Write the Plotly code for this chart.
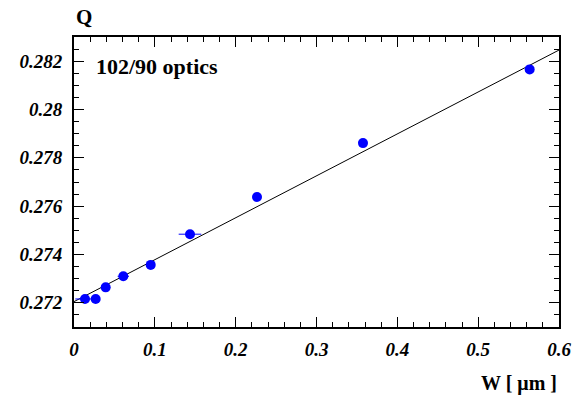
import numpy as np
import plotly.graph_objects as go

# Data
w_vals = [0.0136, 0.0268, 0.0392, 0.061, 0.0949, 0.1435, 0.2264, 0.3575, 0.5637]
q_vals = [0.27216, 0.27216, 0.27264, 0.2731, 0.27357, 0.27484, 0.27638, 0.27861, 0.28166]
w_err = [0.012, 0.005, 0.003, 0.007, 0.003, 0.014, 0.003, 0.003, 0.003]
fit_intercept = 0.27205
fit_slope = 0.01735

x_ticks = [0, 0.1, 0.2, 0.3, 0.4, 0.5, 0.6]
x_ticklabels = ["0", "0.1", "0.2", "0.3", "0.4", "0.5", "0.6"]
y_ticks = [0.272, 0.274, 0.276, 0.278, 0.28, 0.282]
y_ticklabels = ["0.272", "0.274", "0.276", "0.278", "0.28", "0.282"]

fit_x = np.linspace(0, 0.6, 50)
fit_y = fit_intercept + fit_slope * fit_x

fig = go.Figure()
fig.add_trace(go.Scatter(x=fit_x, y=fit_y, mode="lines",
                         line=dict(color="black", width=1), showlegend=False,
                         hoverinfo="skip"))
fig.add_trace(go.Scatter(x=w_vals, y=q_vals, mode="markers",
                         marker=dict(color="#0000ff", size=10),
                         error_x=dict(type="data", array=w_err, color="#0000ff",
                                      thickness=1, width=0),
                         showlegend=False))

tickfont = dict(family="Liberation Serif", size=19, color="black",
                weight="bold", style="italic")

fig.update_xaxes(range=[0, 0.6], tickvals=x_ticks, ticktext=x_ticklabels,
                 ticks="inside", ticklen=10, tickwidth=1, tickcolor="black",
                 showline=True, linecolor="black", linewidth=2, mirror="ticks",
                 showgrid=False, zeroline=False, tickfont=tickfont, automargin=False,
                 ticklabelstandoff=4,
                 minor=dict(dtick=0.02, ticks="inside", ticklen=5, tickwidth=1,
                            tickcolor="black", showgrid=False))
fig.update_yaxes(range=[0.271, 0.283], tickvals=y_ticks, ticktext=y_ticklabels,
                 ticks="inside", ticklen=10, tickwidth=1, tickcolor="black",
                 showline=True, linecolor="black", linewidth=2, mirror="ticks",
                 showgrid=False, zeroline=False, tickfont=tickfont, automargin=False,
                 ticklabelstandoff=6,
                 minor=dict(dtick=0.0005, ticks="inside", ticklen=5, tickwidth=1,
                            tickcolor="black", showgrid=False))

fig.update_layout(
    width=577, height=395,
    margin=dict(l=74, r=18, t=37, b=68),
    paper_bgcolor="white", plot_bgcolor="white",
    annotations=[
        dict(text="Q", xref="paper", yref="paper", x=0, y=1, xanchor="left",
             yanchor="bottom", yshift=6, showarrow=False,
             font=dict(family="Liberation Serif", size=21, color="black", weight="bold")),
        dict(text="W [ μm ]", xref="paper", yref="paper", x=1, y=0, xanchor="right",
             yanchor="top", yshift=-43, showarrow=False,
             font=dict(family="Liberation Serif", size=20, color="black", weight="bold")),
        dict(text="102/90 optics", xref="paper", yref="paper", x=0.041, y=0.897,
             xanchor="left", yanchor="middle", showarrow=False,
             font=dict(family="Liberation Serif", size=22, color="black", weight="bold")),
    ],
)

fig.write_html("out.html")
